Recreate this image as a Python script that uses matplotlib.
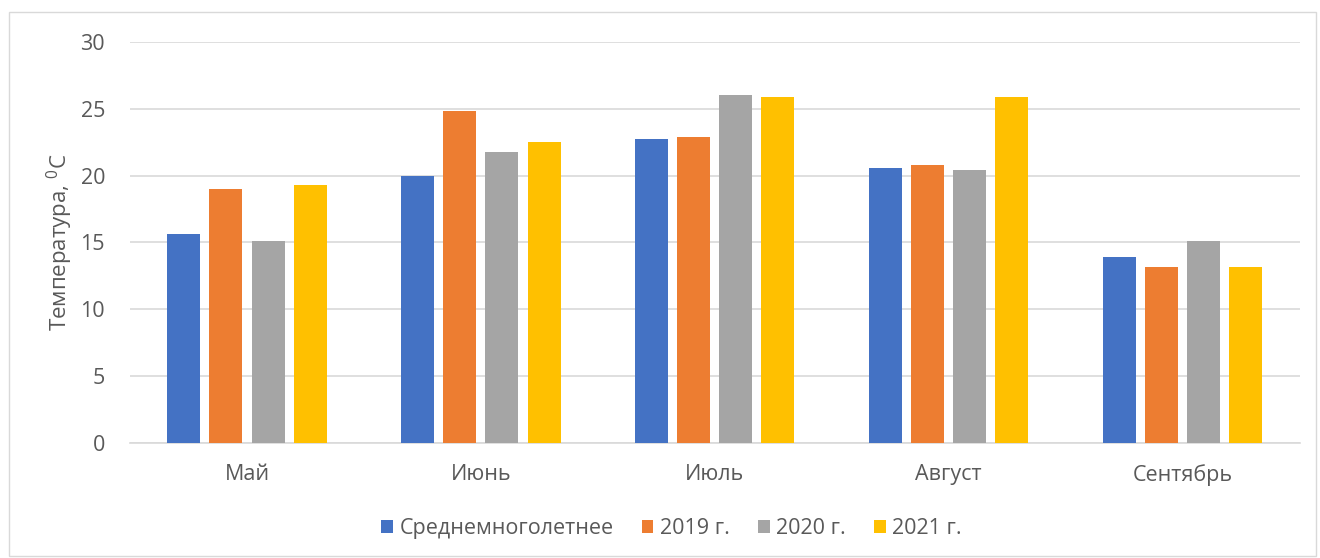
import numpy as np
import matplotlib
matplotlib.use("Agg")
import matplotlib.pyplot as plt
from matplotlib.patches import Rectangle

plt.rcParams['font.family'] = ['Open Sans', 'DejaVu Sans']
plt.rcParams['mathtext.fontset'] = 'custom'
plt.rcParams['mathtext.rm'] = 'Open Sans'
plt.rcParams['mathtext.it'] = 'Open Sans'

months = ["Май", "Июнь", "Июль", "Август", "Сентябрь"]
series_names = ["Среднемноголетнее", "2019 г.", "2020 г.", "2021 г."]
avg = [15.6, 20.0, 22.7, 20.6, 13.9]
y2019 = [19.0, 24.8, 22.9, 20.8, 13.2]
y2020 = [15.1, 21.8, 26.0, 20.4, 15.1]
y2021 = [19.3, 22.5, 25.9, 25.9, 13.2]
colors = ["#4472C4", "#ED7D31", "#A5A5A5", "#FFC000"]

txt = "#595959"
fig = plt.figure(figsize=(13.2, 5.58), dpi=100)
ax = fig.add_axes([0.0985, 0.206, 0.886, 0.719])

x = np.arange(len(months))
w = 0.141
step = 0.18
for i, (vals, name) in enumerate(zip([avg, y2019, y2020, y2021], series_names)):
    ax.bar(x + (i - 1.5) * step, vals, width=w, color=colors[i], label=name,
           zorder=3)

ax.set_xlim(-0.5, len(months) - 0.5)
ax.set_ylim(0, 30)
ax.set_yticks(range(0, 31, 5))
ax.set_xticks(x)
ax.set_xticklabels(months)
ax.tick_params(axis='both', length=0, colors=txt, labelsize=15.5)
ax.tick_params(axis='y', pad=18)
ax.tick_params(axis='x', pad=15)
ax.grid(axis='y', color="#d9d9d9", linewidth=1.2, zorder=0)
for s in ['top', 'right', 'left']:
    ax.spines[s].set_visible(False)
ax.spines['bottom'].set_color("#d9d9d9")
ax.spines['bottom'].set_linewidth(1.2)
ax.set_ylabel("Температура, $^{0}$C", color=txt, fontsize=16, labelpad=4)

leg = ax.legend(loc='lower center', bbox_to_anchor=(0.463, -0.288), ncol=4,
                frameon=False, fontsize=15.5, handlelength=0.55, handleheight=0.55,
                handletextpad=0.3, columnspacing=1.3)
for t in leg.get_texts():
    t.set_color(txt)

fig.patches.append(Rectangle((0.007, 0.003), 0.99, 0.975, transform=fig.transFigure,
                             fill=False, edgecolor="#d9d9d9", linewidth=1))

fig.savefig("out.png", dpi=100)
